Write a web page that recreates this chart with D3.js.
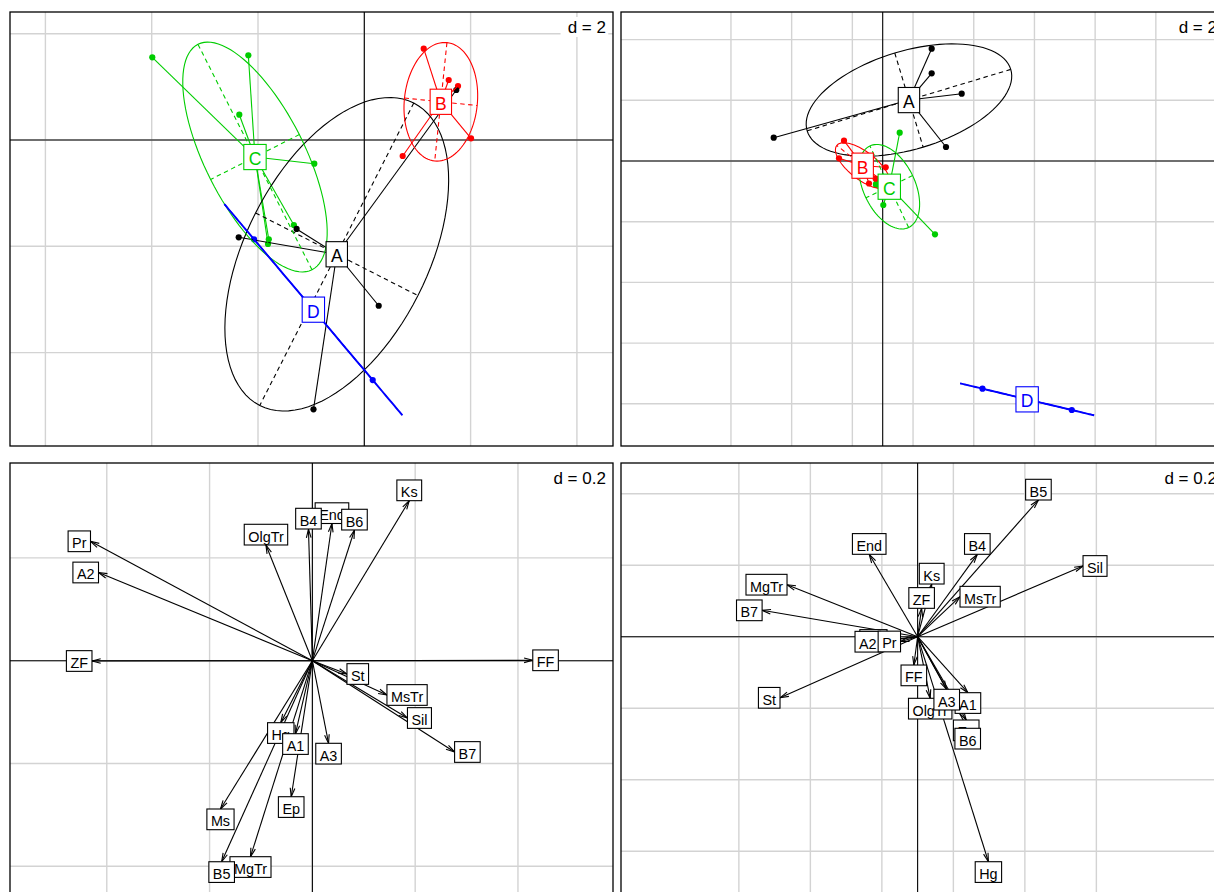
<!DOCTYPE html>
<html>
<head>
<meta charset="utf-8">
<script src="https://cdn.jsdelivr.net/npm/d3@7"></script>
<style>
  body { margin: 0; background: #fff; }
  svg { display: block; }
</style>
</head>
<body>
<script>
// ---------- group scatter: rows, class membership, two ordinations ----------
const classLevels = ["A", "B", "C", "D"];
const classColors = ["#000000", "#ff0000", "#00cd00", "#0000ff"];
const rowClass = ["A","A","A","A","A", "B","B","B","B","B", "C","C","C","C","C","C","C", "D","D"];

// first ordination (axis 1, axis 2)
const ord1X = [1.731, -1.274, -2.363, -0.956, 0.271,
               1.118, 1.588, 2.008, 0.722, 1.763,
               -3.989, -2.182, -2.352, -0.941, -1.325, -1.797, -1.812,
               -2.075, 0.158];
const ord1Y = [0.941, -1.674, -1.831, -5.067, -3.118,
               1.718, 1.129, 0.032, -0.301, 1.016,
               1.556, 1.594, 0.476, -0.446, -1.599, -1.868, -1.957,
               -1.868, -4.516];

// second ordination
const ord2X = [1.614, 1.614, 2.603, 2.086, -3.591,
               -1.275, -1.440, 0.099, -0.231, -0.451,
               0.560, 0.020, 1.723, -0.155, -0.188, -0.221, -0.221,
               3.288, 6.231];
const ord2Y = [3.700, 2.890, 2.217, 0.461, 0.768,
               0.669, 0.089, -0.208, -0.583, -0.741,
               0.932, -1.450, -2.415, -0.758, -0.692, -0.791, -0.758,
               -7.502, -8.204];

// ---------- variable arrows for the two ordinations ----------
const varNames = ["Ms","Hg","End","Ep","OlgTr","MgTr","A1","A2","A3","B4",
                  "B5","B6","B7","FF","Ks","MsTr","Pr","Sil","St","ZF"];
const var1X = [-0.1788, -0.0615, 0.0381, -0.0412, -0.0903, -0.1204, -0.0329, -0.4161, 0.0315, -0.0076,
               -0.1765, 0.0819, 0.2767, 0.4288, 0.1885, 0.1451, -0.4317, 0.1850, 0.0673, -0.4288];
const var1Y = [-0.2885, -0.1206, 0.2669, -0.2646, 0.2251, -0.3813, -0.1420, 0.1716, -0.1607, 0.2562,
               -0.3911, 0.2543, -0.1776, 0.0008, 0.3113, -0.0667, 0.2323, -0.1115, -0.0259, -0.0006];
const var2X = [-0.0856, 0.1980, -0.1354, 0.1359, 0.0352, -0.3653, 0.1407, -0.1035, 0.0814, 0.1670,
               0.3379, 0.1401, -0.4350, -0.0106, 0.0394, 0.1186, -0.0478, 0.4627, -0.3849, 0.0112];
const var2Y = [-0.0092, -0.6294, 0.2305, -0.2330, -0.1723, 0.1455, -0.1566, -0.0140, -0.1471, 0.2305,
               0.3824, -0.2562, 0.0738, -0.0792, 0.1474, 0.1119, -0.0134, 0.1978, -0.1709, 0.0794];

// ---------- plotting windows and grids ----------
const lim1X = [-6.666, 4.679],  lim1Y = [-5.757, 2.408];
const lim2X = [-8.623, 11.246], lim2Y = [-9.390, 4.909];
const lim3X = [-0.5883, 0.5849], lim3Y = [-0.4597, 0.3846];
const lim4X = [-0.8297, 0.8570], lim4Y = [-0.7281, 0.4859];

const grid1X = [-6, -4, -2, 0, 2, 4],            grid1Y = [-4, -2, 0, 2];
const grid2X = [-5, -3, -1, 1, 3, 5, 7, 9],       grid2Y = [-8, -6, -4, -2, 0, 2, 4];
const grid3X = [-0.4, -0.2, 0, 0.2, 0.4],         grid3Y = [-0.4, -0.2, 0, 0.2];
const grid4X = [-0.5, -0.3, -0.1, 0.1, 0.3, 0.5], grid4Y = [-0.6, -0.4, -0.2, 0, 0.2, 0.4];
const gridSteps = ["2", "2", "0.2", "0.2"];

// ---------- drawing ----------
const W = 1214, H = 892;
const FONT = '"Liberation Sans", Arial, Helvetica, sans-serif';
const measureCtx = document.createElement("canvas").getContext("2d");
function textWidth(s, size) {
  measureCtx.font = size + "px " + FONT;
  return measureCtx.measureText(s).width;
}

const svg = d3.select("body").append("svg")
  .attr("width", W).attr("height", H)
  .attr("font-family", FONT);
svg.append("rect").attr("width", W).attr("height", H).attr("fill", "#fff");

const frames = [
  { left: 10,  top: 12,  right: 613,  bottom: 446 },
  { left: 621, top: 12,  right: 1224, bottom: 446 },
  { left: 10,  top: 463, right: 613,  bottom: 897 },
  { left: 621, top: 463, right: 1224, bottom: 897 }
];

function makePanel(i, limX, limY, gx, gy) {
  const fr = frames[i];
  const sx = d3.scaleLinear().domain(limX).range([fr.left, fr.right]);
  const sy = d3.scaleLinear().domain(limY).range([fr.bottom, fr.top]);
  const clipId = "clip" + i;
  svg.append("clipPath").attr("id", clipId)
    .append("rect").attr("x", fr.left).attr("y", fr.top)
    .attr("width", fr.right - fr.left).attr("height", fr.bottom - fr.top);
  const g = svg.append("g").attr("clip-path", `url(#${clipId})`);

  // light grid
  g.append("g").selectAll("line").data(gx).join("line")
    .attr("x1", d => sx(d)).attr("x2", d => sx(d))
    .attr("y1", fr.top).attr("y2", fr.bottom)
    .attr("stroke", "#d3d3d3").attr("stroke-width", 1.4);
  g.append("g").selectAll("line").data(gy).join("line")
    .attr("y1", d => sy(d)).attr("y2", d => sy(d))
    .attr("x1", fr.left).attr("x2", fr.right)
    .attr("stroke", "#d3d3d3").attr("stroke-width", 1.4);

  // grid step legend in the top-right corner
  const fs = 17;
  const cha = " d = " + gridSteps[i] + " ";
  const xh = textWidth(cha, fs), x0 = textWidth(" ", fs);
  g.append("rect")
    .attr("x", fr.right - x0 - xh).attr("y", fr.top + 5)
    .attr("width", xh).attr("height", 20)
    .attr("fill", "#fff");
  g.append("text")
    .attr("x", fr.right - xh / 2 - x0 / 2).attr("y", fr.top + 21)
    .attr("text-anchor", "middle").attr("font-size", fs)
    .text("d = " + gridSteps[i]);

  // axes through the origin
  g.append("line").attr("x1", sx(0)).attr("x2", sx(0))
    .attr("y1", fr.top).attr("y2", fr.bottom)
    .attr("stroke", "#000").attr("stroke-width", 1.1);
  g.append("line").attr("y1", sy(0)).attr("y2", sy(0))
    .attr("x1", fr.left).attr("x2", fr.right)
    .attr("stroke", "#000").attr("stroke-width", 1.1);

  return { g, sx, sy, fr };
}

function drawFrame(p) {
  svg.append("rect")
    .attr("x", p.fr.left).attr("y", p.fr.top)
    .attr("width", p.fr.right - p.fr.left).attr("height", p.fr.bottom - p.fr.top)
    .attr("fill", "none").attr("stroke", "#000").attr("stroke-width", 1.3);
}

// ellipse of a class: weighted covariance, 1.5 standard deviations
function classEllipse(xs, ys, coeff) {
  const n = xs.length;
  const mx = d3.mean(xs), my = d3.mean(ys);
  let vx = d3.sum(xs, x => (x - mx) ** 2) / n;
  let vy = d3.sum(ys, y => (y - my) ** 2) / n;
  const cxy = d3.sum(xs.map((x, k) => (x - mx) * (ys[k] - my))) / n;
  let delta = Math.sqrt((vx - vy) ** 2 + 4 * cxy * cxy);
  let l1 = (vx + vy + delta) / 2;
  let l2 = vx + vy - l1;
  l1 = Math.sqrt(Math.max(l1, 0));
  l2 = Math.sqrt(Math.max(l2, 0));
  let a0, b0;
  if (vx === 0) { a0 = 0; b0 = 1; }
  else if (vy === 0) { a0 = 1; b0 = 0; }
  else if (Math.abs(cxy) < 1e-10) { if (vx > vy) { a0 = 1; b0 = 0; } else { a0 = 0; b0 = 1; } }
  else {
    a0 = 1; b0 = (l1 * l1 - vx) / cxy;
    const nm = Math.sqrt(a0 * a0 + b0 * b0);
    a0 /= nm; b0 /= nm;
  }
  const c11 = coeff * a0 * l1, c12 = -coeff * b0 * l2;
  const c21 = coeff * b0 * l1, c22 = coeff * a0 * l2;
  const poly = d3.range(100).map(k => {
    const t = k * 2 * Math.PI / 100;
    return [mx + c11 * Math.cos(t) + c12 * Math.sin(t), my + c21 * Math.cos(t) + c22 * Math.sin(t)];
  });
  return {
    mx, my, poly,
    seg1: [mx + c11, my + c21, mx - c11, my - c21],
    seg2: [mx + c12, my + c22, mx - c12, my - c22]
  };
}

function drawClasses(p, X, Y) {
  const { g, sx, sy } = p;
  const byClass = classLevels.map(lv => {
    const idx = d3.range(rowClass.length).filter(k => rowClass[k] === lv);
    return { lv, xs: idx.map(k => X[k]), ys: idx.map(k => Y[k]) };
  });
  const stats = byClass.map(c => classEllipse(c.xs, c.ys, 1.5));

  // points
  for (let c = byClass.length - 1; c >= 0; c--) {
    g.append("g").selectAll("circle").data(d3.zip(byClass[c].xs, byClass[c].ys)).join("circle")
      .attr("cx", d => sx(d[0])).attr("cy", d => sy(d[1])).attr("r", 3.1)
      .attr("fill", classColors[c]);
  }
  // stars from the class centre
  byClass.forEach((c, ci) => {
    g.append("g").selectAll("line").data(d3.zip(c.xs, c.ys)).join("line")
      .attr("x1", sx(stats[ci].mx)).attr("y1", sy(stats[ci].my))
      .attr("x2", d => sx(d[0])).attr("y2", d => sy(d[1]))
      .attr("stroke", classColors[ci]).attr("stroke-width", 1.1);
  });
  // ellipses and their axes
  const line = d3.line().x(d => sx(d[0])).y(d => sy(d[1])).curve(d3.curveLinearClosed);
  stats.forEach((s, ci) => {
    const col = classColors[ci];
    const degenerate = Math.abs(s.seg2[0] - s.seg2[2]) + Math.abs(s.seg2[1] - s.seg2[3]) < 1e-9;
    g.append("path").attr("d", line(s.poly))
      .attr("fill", "none").attr("stroke", col)
      .attr("stroke-width", degenerate ? 1.9 : 1.1);
    [s.seg1, s.seg2].forEach(sg => {
      g.append("line")
        .attr("x1", sx(sg[0])).attr("y1", sy(sg[1]))
        .attr("x2", sx(sg[2])).attr("y2", sy(sg[3]))
        .attr("stroke", col).attr("stroke-width", 1.1)
        .attr("stroke-dasharray", "4.5,3.5");
    });
  });
  // boxed class labels
  const fs = 17.5, hh = 12.6;
  stats.forEach((s, ci) => {
    const col = classColors[ci];
    const w = textWidth(" " + classLevels[ci] + " ", fs);
    const cx = sx(s.mx), cy = sy(s.my);
    g.append("rect").attr("x", cx - w / 2).attr("y", cy - hh)
      .attr("width", w).attr("height", 2 * hh)
      .attr("fill", "#fff").attr("stroke", col).attr("stroke-width", 1.1);
    g.append("text").attr("x", cx).attr("y", cy + 0.36 * fs + 1.8)
      .attr("text-anchor", "middle").attr("font-size", fs).attr("fill", col)
      .text(classLevels[ci]);
  });
}

function drawArrows(p, X, Y) {
  const { g, sx, sy } = p;
  const ox = sx(0), oy = sy(0);
  const len = 9, ang = 15 * Math.PI / 180;
  varNames.forEach((nm, k) => {
    const x = sx(X[k]), y = sy(Y[k]);
    g.append("line").attr("x1", ox).attr("y1", oy).attr("x2", x).attr("y2", y)
      .attr("stroke", "#000").attr("stroke-width", 1.1);
    const a = Math.atan2(y - oy, x - ox);
    [-1, 1].forEach(sgn => {
      g.append("line").attr("x1", x).attr("y1", y)
        .attr("x2", x - len * Math.cos(a + sgn * ang))
        .attr("y2", y - len * Math.sin(a + sgn * ang))
        .attr("stroke", "#000").attr("stroke-width", 1.1);
    });
  });
  // labels pushed outward from the arrow tip
  const fs = 14.4, hh = 10.35;
  varNames.forEach((nm, k) => {
    const u = X[k], v = Y[k];
    const px = sx(u), py = sy(v);
    const w = textWidth(" " + nm + " ", fs);
    let x1, y1;
    if (u > v && u > -v) { x1 = px + w / 2; y1 = py; }
    else if (u > v && u <= -v) { x1 = px; y1 = py + hh; }
    else if (u <= v && u <= -v) { x1 = px - w / 2; y1 = py; }
    else { x1 = px; y1 = py - hh; }
    g.append("rect").attr("x", x1 - w / 2).attr("y", y1 - hh)
      .attr("width", w).attr("height", 2 * hh)
      .attr("fill", "#fff").attr("stroke", "#000").attr("stroke-width", 1.1);
    g.append("text").attr("x", x1).attr("y", y1 + 0.36 * fs + 1.8)
      .attr("text-anchor", "middle").attr("font-size", fs).attr("fill", "#000")
      .text(nm);
  });
}

const p1 = makePanel(0, lim1X, lim1Y, grid1X, grid1Y);
drawClasses(p1, ord1X, ord1Y);
drawFrame(p1);

const p2 = makePanel(1, lim2X, lim2Y, grid2X, grid2Y);
drawClasses(p2, ord2X, ord2Y);
drawFrame(p2);

const p3 = makePanel(2, lim3X, lim3Y, grid3X, grid3Y);
drawArrows(p3, var1X, var1Y);
drawFrame(p3);

const p4 = makePanel(3, lim4X, lim4Y, grid4X, grid4Y);
drawArrows(p4, var2X, var2Y);
drawFrame(p4);
</script>
</body>
</html>
